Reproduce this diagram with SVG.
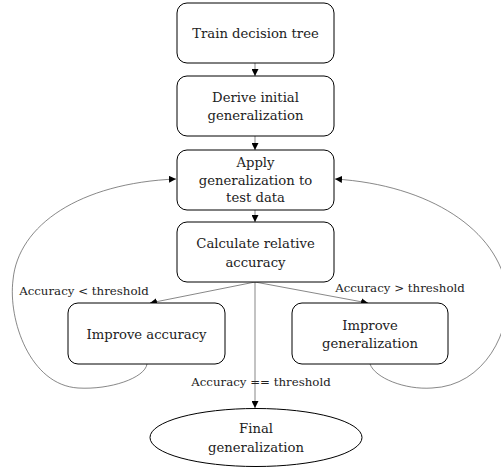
<svg xmlns="http://www.w3.org/2000/svg" width="501" height="467" viewBox="0 0 501 467">
<style>
.box{fill:#fff;stroke:#000;stroke-width:1}
.t{font-family:"DejaVu Serif","Liberation Serif",serif;font-size:13.2px;fill:#222;text-anchor:middle;dominant-baseline:central}
.l{font-family:"DejaVu Serif","Liberation Serif",serif;font-size:11.8px;fill:#222;text-anchor:middle;dominant-baseline:central}
.c{fill:none;stroke:#555;stroke-width:0.7}
</style>
<defs>
<marker id="ah" viewBox="0 0 10 10" refX="10" refY="5" markerWidth="7" markerHeight="7" markerUnits="userSpaceOnUse" orient="auto">
<path d="M0,0 L10,5 L0,10 z" fill="#000"/>
</marker>
</defs>
<g id="connectors">
<path class="c" d="M255,63 L255,76" marker-end="url(#ah)"/>
<path class="c" d="M255,136 L255,150" marker-end="url(#ah)"/>
<path class="c" d="M255,210 L255,222" marker-end="url(#ah)"/>
<path class="c" d="M255,282 L150,303" marker-end="url(#ah)"/>
<path class="c" d="M255,282 L368,303" marker-end="url(#ah)"/>
<path class="c" d="M255,282 L255,408" marker-end="url(#ah)"/>
<path class="c" d="M147,364 C145,378 110,390 78,388 C30,385 8,320 13,280 C18,225 80,183 176,179" marker-end="url(#ah)"/>
<path class="c" d="M370,364 C375,378 405,390 432,388 C485,386 512,330 507,290 C498,230 430,185 335,179" marker-end="url(#ah)"/>
<text class="l" x="84" y="291">Accuracy &lt; threshold</text>
<text class="l" x="400" y="288">Accuracy &gt; threshold</text>
<text class="l" x="261" y="382">Accuracy == threshold</text>
</g>
<g id="n1"><rect class="box" x="177" y="3" width="157" height="60" rx="10"/><text class="t" x="255.5" y="33">Train decision tree</text></g>
<g id="n2"><rect class="box" x="177" y="76" width="157" height="60" rx="10"/><text class="t" x="255.5" y="97">Derive initial</text><text class="t" x="255.5" y="115">generalization</text></g>
<g id="n3"><rect class="box" x="177" y="150" width="157" height="60" rx="10"/><text class="t" x="255.5" y="162">Apply</text><text class="t" x="255.5" y="180">generalization to</text><text class="t" x="255.5" y="197">test data</text></g>
<g id="n4"><rect class="box" x="177" y="222" width="157" height="60" rx="10"/><text class="t" x="255.5" y="243">Calculate relative</text><text class="t" x="255.5" y="262">accuracy</text></g>
<g id="n5"><rect class="box" x="68" y="303" width="157" height="61" rx="10"/><text class="t" x="146.5" y="334">Improve accuracy</text></g>
<g id="n6"><rect class="box" x="292" y="303" width="156" height="61" rx="10"/><text class="t" x="370" y="325">Improve</text><text class="t" x="370" y="343">generalization</text></g>
<g id="n7"><ellipse class="box" cx="256" cy="437.5" rx="106" ry="29"/><text class="t" x="256" y="428">Final</text><text class="t" x="256" y="447">generalization</text></g>
</svg>
